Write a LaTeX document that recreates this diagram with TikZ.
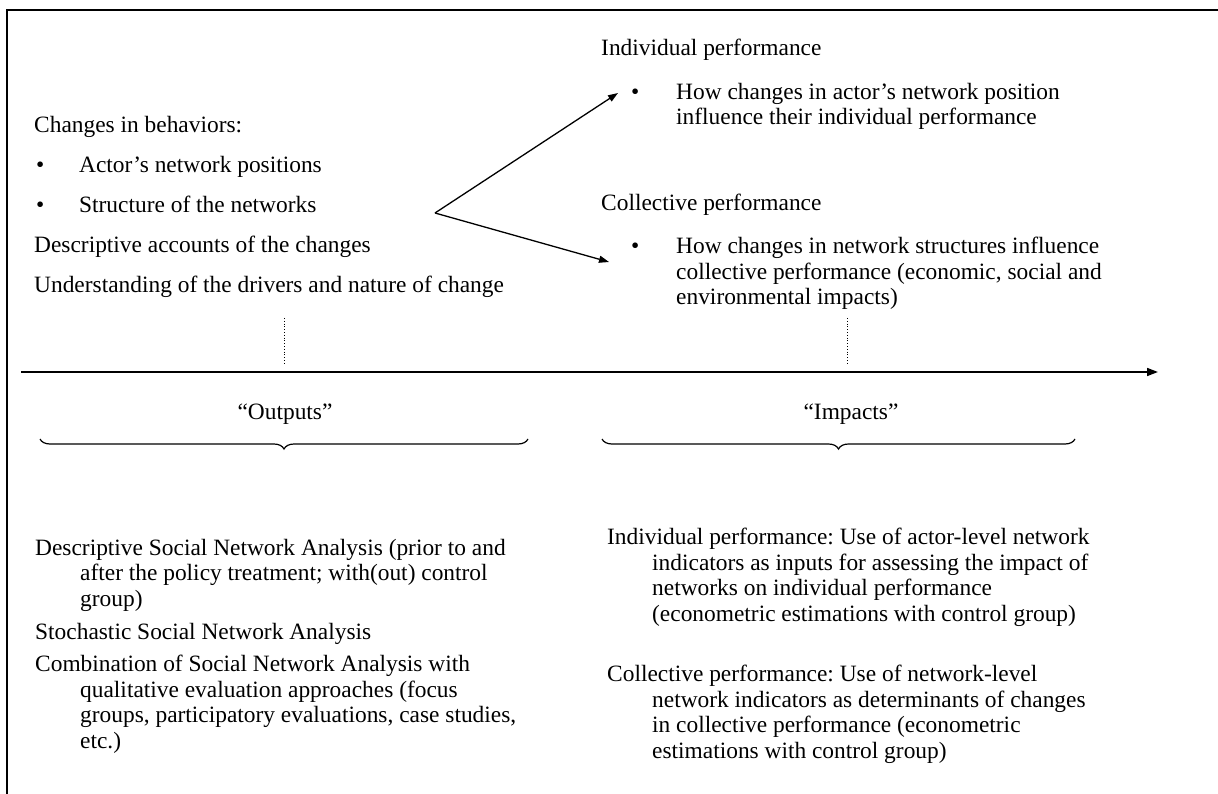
\documentclass[tikz,border=0pt]{standalone}
\usepackage{fontspec}
\setmainfont{Liberation Serif}
\usetikzlibrary{positioning,arrows.meta,decorations.pathreplacing}
\frenchspacing

\newcommand{\bul}[1]{\makebox[#1][l]{\textbullet}}
\newcommand{\hang}{\hspace*{45pt}}

\begin{document}
\begin{tikzpicture}[
    x=1pt, y=-1pt,
    txt/.style={%
      inner sep=0pt,
      anchor=base west,
      align=left,
      font=\fontsize{23.4}{25.5}\selectfont,
    },
    link/.style={%
      -{Triangle[length=10pt,width=7pt]},
      line width=1.3pt,
    },
    guide/.style={%
      dotted,
      line width=0.8pt,
    },
    brc/.style={%
      decorate,
      decoration={brace,mirror,amplitude=10pt},
      line width=1.2pt,
    },
  ]

    \clip (0,0) rectangle (1218,794);
    \draw [line width=2.2pt] (7,10) rectangle (1240,820);

    % upper left block (base = last line)
    \node [txt] (chg) at (34,133) {Changes in behaviors:};
    \path (chg.base west) ++(2,40) node [txt] (act) {\bul{43pt}Actor's network positions};
    \path (act.base west) ++(0,40) node [txt] (str) {\bul{43pt}Structure of the networks};
    \path (chg.base west) ++(0,120) node [txt] (dsc) {Descriptive accounts of the changes};
    \path (dsc.base west) ++(0,40) node [txt] (und) {Understanding of the drivers and nature of change};

    % upper right block
    \node [txt] (ind) at (601,56) {Individual performance};
    \path (ind.base west) ++(30,69) node [txt] (indb) {\bul{45pt}How changes in actor's network position\\
      \hang influence their individual performance};
    \node [txt] (col) at (601,211) {Collective performance};
    \path (col.base west) ++(30,94) node [txt] (colb) {\bul{45pt}How changes in network structures influence\\
      \hang collective performance (economic, social and\\
      \hang environmental impacts)};

    % fork
    \coordinate (fork) at (435,213);
    \coordinate (upTip) at (618,93);
    \coordinate (dnTip) at (609,262);
    \draw [link] (fork) -- (upTip);
    \draw [link] (fork) -- (dnTip);

    % time line
    \coordinate (tl0) at (21,372);
    \coordinate (tl1) at (1158,372);
    \draw [-{Triangle[length=11pt,width=8pt]},line width=1.6pt] (tl0) -- (tl1);
    \coordinate (g1a) at (284,318);
    \coordinate (g1b) at (284,365);
    \coordinate (g2a) at (847,318);
    \coordinate (g2b) at (847,365);
    \draw [guide] (g1a) -- (g1b);
    \draw [guide] (g2a) -- (g2b);

    \node [txt,anchor=base] (outp) at (285,419) {``Outputs''};
    \node [txt,anchor=base] (imp) at (851,419) {``Impacts''};
    \coordinate (br1a) at (40,439);
    \coordinate (br1b) at (528,439);
    \coordinate (br2a) at (602,439);
    \coordinate (br2b) at (1075,439);
    \draw [brc] (br1a) -- (br1b);
    \draw [brc] (br2a) -- (br2b);

    % lower left block
    \node [txt] (dsna) at (35,606) {Descriptive Social Network Analysis (prior to and\\
      \hang after the policy treatment; with(out) control\\
      \hang group)};
    \node [txt] (ssna) at (35,639) {Stochastic Social Network Analysis};
    \node [txt] (comb) at (35,748) {Combination of Social Network Analysis with\\
      \hang qualitative evaluation approaches (focus\\
      \hang groups, participatory evaluations, case studies,\\
      \hang etc.)};

    % lower right block
    \node [txt] (indp) at (607,621) {Individual performance: Use of actor-level network\\
      \hang indicators as inputs for assessing the impact of\\
      \hang networks on individual performance\\
      \hang (econometric estimations with control group)};
    \node [txt] (colp) at (607,758) {Collective performance: Use of network-level\\
      \hang network indicators as determinants of changes\\
      \hang in collective performance (econometric\\
      \hang estimations with control group)};
\end{tikzpicture}
\end{document}
